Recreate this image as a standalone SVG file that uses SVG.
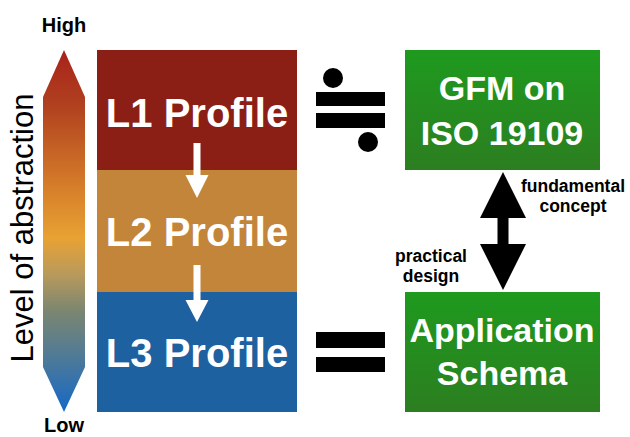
<svg xmlns="http://www.w3.org/2000/svg" width="630" height="437" viewBox="0 0 630 437">
  <defs>
    <linearGradient id="abstraction" gradientUnits="userSpaceOnUse" x1="0" y1="50" x2="0" y2="412">
      <stop offset="0" stop-color="#A8221A"/>
      <stop offset="0.15" stop-color="#B0401F"/>
      <stop offset="0.38" stop-color="#D67E2A"/>
      <stop offset="0.52" stop-color="#E8A233"/>
      <stop offset="0.62" stop-color="#B89A5C"/>
      <stop offset="0.72" stop-color="#7C8670"/>
      <stop offset="0.85" stop-color="#4E7A98"/>
      <stop offset="1" stop-color="#1568C6"/>
    </linearGradient>
    <linearGradient id="green" x1="0" y1="0" x2="0" y2="1">
      <stop offset="0" stop-color="#1E9A1E"/>
      <stop offset="1" stop-color="#2C7E20"/>
    </linearGradient>
  </defs>
  <style>
    .bold { font-family: "Liberation Sans", Arial, sans-serif; font-weight: bold; }
    .big { font-size: 40px; fill: #FFFFFF; text-anchor: middle; }
    .mid { font-size: 34px; fill: #FFFFFF; text-anchor: middle; }
    .small { font-size: 17.5px; fill: #000000; text-anchor: middle; }
    .axis { font-size: 20px; fill: #000000; text-anchor: middle; }
    .white { fill: #FFFFFF; }
    .black { fill: #000000; }
  </style>

  <!-- abstraction scale -->
  <g id="scale">
    <path d="M64,50 L85,97 L85,367 L64,412 L43,367 L43,97 Z" fill="url(#abstraction)"/>
    <text class="bold axis" x="64" y="32">High</text>
    <text class="bold axis" x="64" y="432">Low</text>
    <text x="0" y="0" transform="translate(33,228) rotate(-90)" font-family="'Liberation Sans', Arial, sans-serif" font-size="31px" text-anchor="middle" fill="#000000">Level of abstraction</text>
  </g>

  <!-- profile levels -->
  <g id="l1">
    <rect x="97" y="50" width="200" height="120" fill="#8B1F15"/>
    <text class="bold big" x="197" y="127">L1 Profile</text>
  </g>
  <g id="l2">
    <rect x="97" y="170" width="200" height="122" fill="#C2853A"/>
    <text class="bold big" x="197" y="246">L2 Profile</text>
  </g>
  <g id="l3">
    <rect x="97" y="292" width="200" height="120" fill="#1E61A0"/>
    <text class="bold big" x="197" y="367">L3 Profile</text>
  </g>

  <!-- relation symbols -->
  <g id="approx-equal">
    <rect x="316" y="92" width="69" height="14" class="black"/>
    <rect x="316" y="113" width="69" height="15" class="black"/>
    <circle cx="333" cy="78" r="10" class="black"/>
    <circle cx="368" cy="142" r="10" class="black"/>
  </g>
  <g id="equal">
    <rect x="316" y="332" width="69" height="16" class="black"/>
    <rect x="316" y="357" width="69" height="15" class="black"/>
  </g>

  <!-- model boxes -->
  <g id="gfm">
    <rect x="405" y="50" width="195" height="120" fill="url(#green)"/>
    <text class="bold mid" x="502" y="100">GFM on</text>
    <text class="bold mid" x="502" y="145">ISO 19109</text>
  </g>
  <g id="app-schema">
    <rect x="405" y="292" width="195" height="120" fill="url(#green)"/>
    <text class="bold mid" x="502" y="342">Application</text>
    <text class="bold mid" x="502" y="385">Schema</text>
  </g>

  <!-- connectors -->
  <g id="connectors">
    <path d="M193.5,143 L200.5,143 L200.5,175 L208.5,175 L197,198 L185.5,175 L193.5,175 Z" class="white"/>
    <path d="M193.5,265 L200.5,265 L200.5,300 L208.5,300 L197,322 L185.5,300 L193.5,300 Z" class="white"/>
    <path d="M503,172 L526,218 L508.5,218 L508.5,244 L526,244 L503,290 L480,244 L497.5,244 L497.5,218 L480,218 Z" class="black"/>
    <text class="bold small" x="573" y="192">fundamental</text>
    <text class="bold small" x="573" y="212">concept</text>
    <text class="bold small" x="431" y="262">practical</text>
    <text class="bold small" x="431" y="282">design</text>
  </g>
</svg>
